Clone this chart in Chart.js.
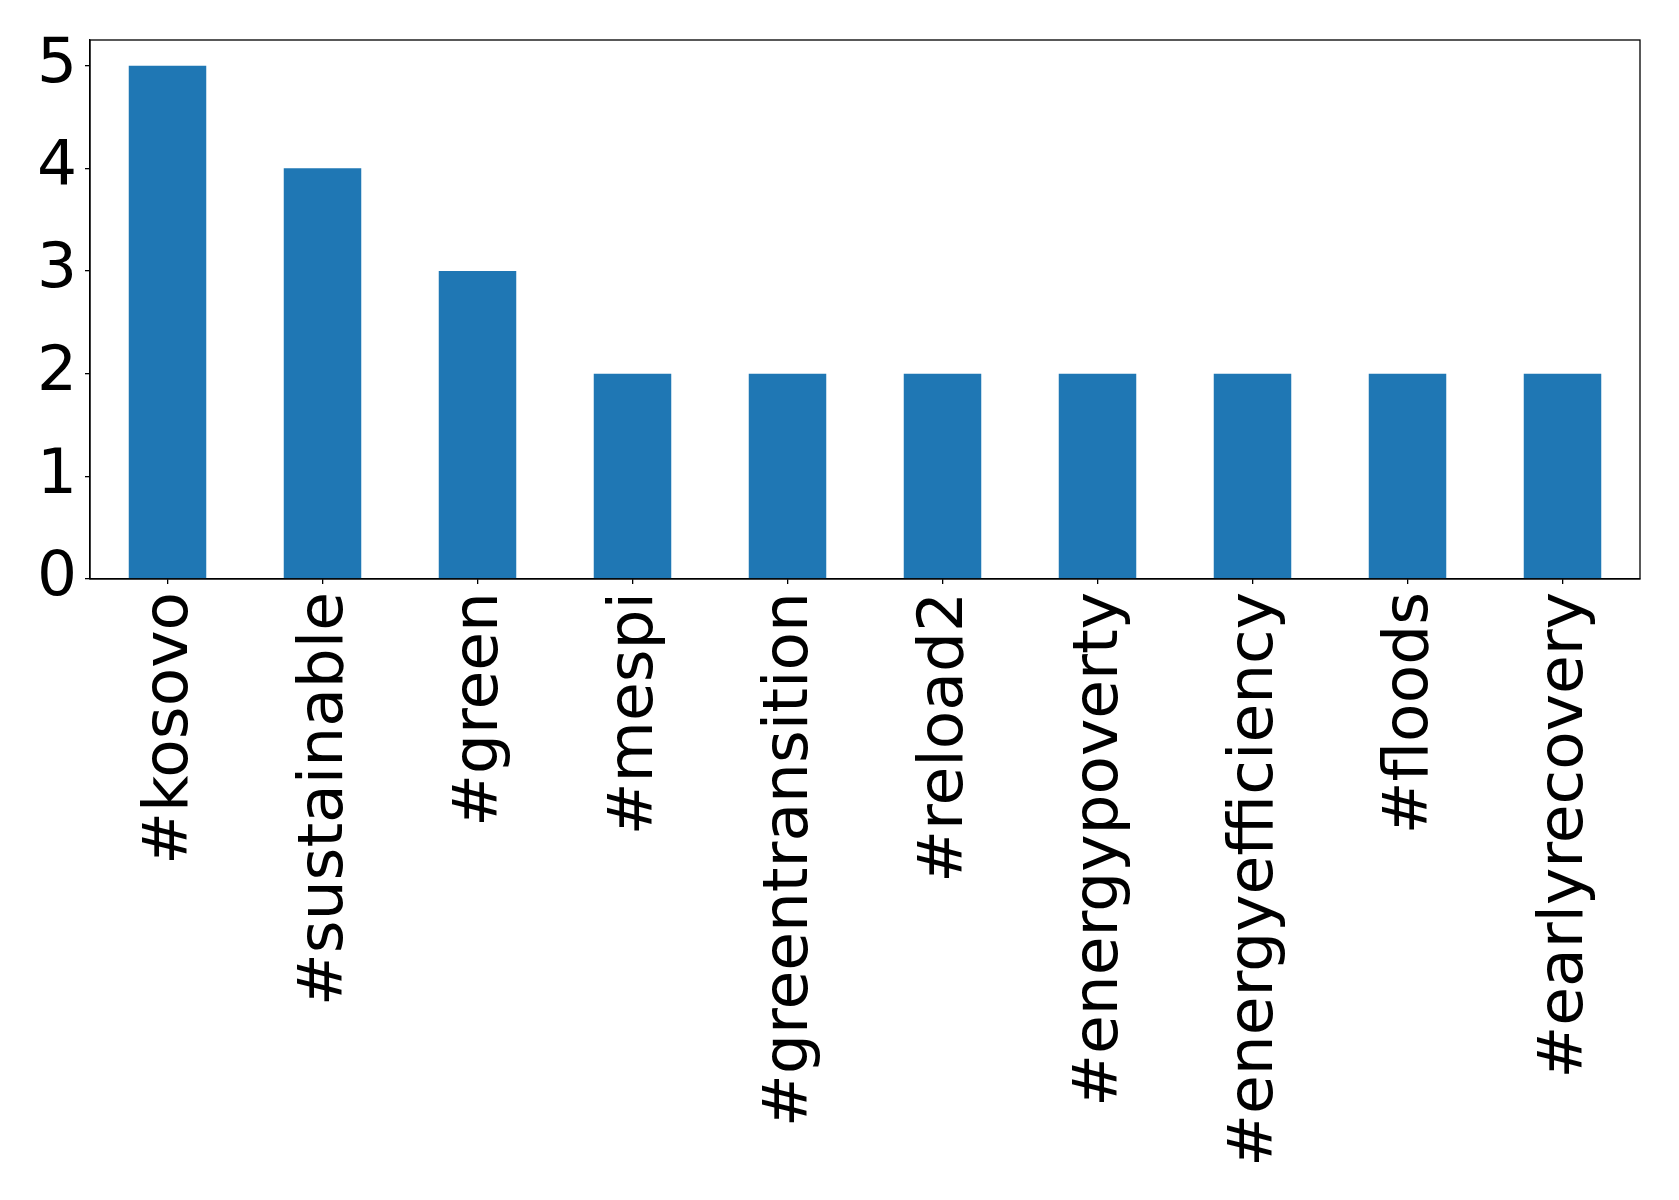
<!DOCTYPE html>
<html>
<head>
<meta charset="utf-8">
<script src="https://cdn.jsdelivr.net/npm/chart.js@4/dist/chart.umd.min.js"></script>
<style>
  html, body { margin: 0; padding: 0; background: #ffffff; }
  #wrap { width: 1679px; height: 1200px; position: relative; }
</style>
</head>
<body>
<div id="wrap"><canvas id="c" width="1679" height="1200"></canvas></div>
<script>
const categories = ["#kosovo", "#sustainable", "#green", "#mespi", "#greentransition", "#reload2", "#energypoverty", "#energyefficiency", "#floods", "#earlyrecovery"];
const counts = [5, 4, 3, 2, 2, 2, 2, 2, 2, 2];
const yTicks = [0, 1, 2, 3, 4, 5];

const frame = {
  id: 'frame',
  afterDraw(chart) {
    const a = chart.chartArea, ctx = chart.ctx;
    ctx.save();
    ctx.strokeStyle = '#000';
    ctx.lineWidth = 1.3;
    ctx.strokeRect(a.left, a.top, a.right - a.left, a.bottom - a.top);
    ctx.restore();
  }
};

new Chart(document.getElementById('c'), {
  type: 'bar',
  data: {
    labels: categories,
    datasets: [{
      data: counts,
      backgroundColor: '#1f77b4',
      borderWidth: 0,
      barPercentage: 0.5,
      categoryPercentage: 1.0
    }]
  },
  options: {
    responsive: false,
    animation: false,
    layout: { padding: { top: 40, right: 39, left: 0, bottom: 0 } },
    plugins: { legend: { display: false }, tooltip: { enabled: false } },
    scales: {
      x: {
        offset: true,
        grid: { display: true, drawOnChartArea: false, drawTicks: true, tickLength: 5, offset: false, color: '#000', lineWidth: 1.3 },
        border: { display: true, color: '#000', width: 1.3 },
        ticks: {
          color: '#000', font: { family: 'DejaVu Sans', size: 63 },
          minRotation: 90, maxRotation: 90, autoSkip: false, padding: 8, labelOffset: 3
        },
        afterFit(scale) { scale.height = 1200 - 579; scale.paddingLeft = 0; scale.paddingRight = 0; }
      },
      y: {
        min: 0, max: 5.25,
        grid: { display: true, drawOnChartArea: false, drawTicks: true, tickLength: 5, color: '#000', lineWidth: 1.3 },
        border: { display: true, color: '#000', width: 1.3 },
        ticks: { color: '#000', font: { family: 'DejaVu Sans', size: 63 }, stepSize: 1, padding: 8 },
        afterBuildTicks(scale) { scale.ticks = yTicks.map(v => ({ value: v })); },
        afterFit(scale) { scale.width = 90; scale.paddingTop = 0; scale.paddingBottom = 0; }
      }
    }
  },
  plugins: [frame]
});
</script>
</body>
</html>
